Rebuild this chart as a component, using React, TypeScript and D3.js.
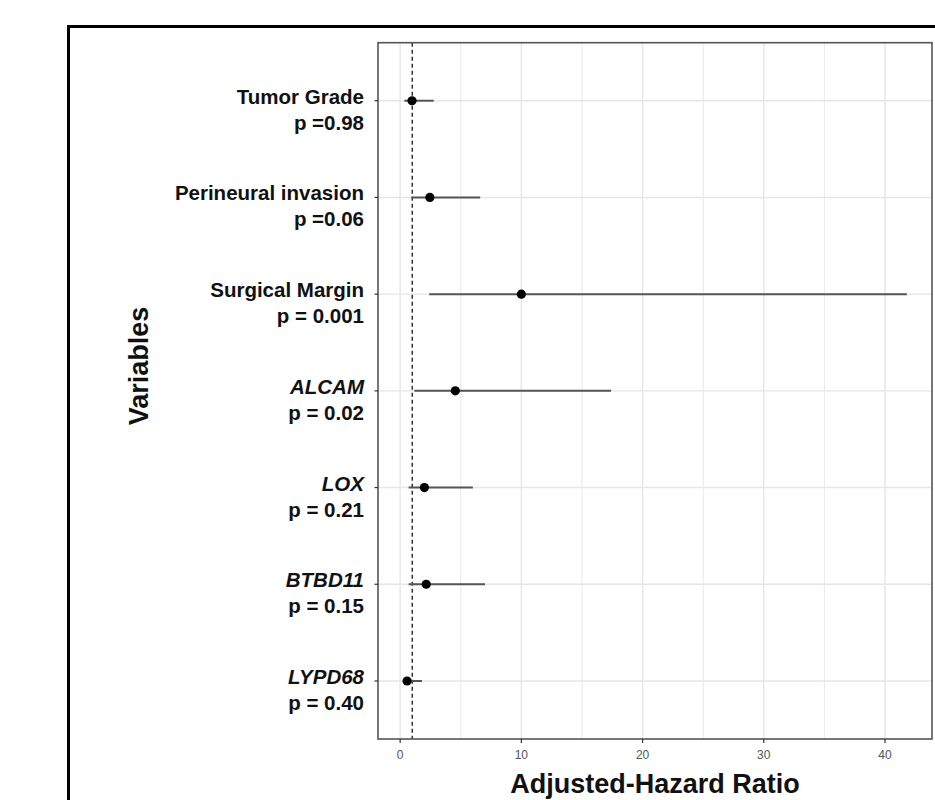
import React, { useEffect, useRef } from 'react';
import * as d3 from 'd3';

// forest plot data
const variables = ["Tumor Grade", "Perineural invasion", "Surgical Margin", "ALCAM", "LOX", "BTBD11", "LYPD68"];
const pLabels = ["p =0.98", "p =0.06", "p = 0.001", "p = 0.02", "p = 0.21", "p = 0.15", "p = 0.40"];
const isGene = [false, false, false, true, true, true, true];
const hazardRatio = [0.98, 2.45, 10.0, 4.55, 2.0, 2.15, 0.57];
const lowerCI = [0.35, 0.93, 2.4, 1.17, 0.7, 0.7, 0.25];
const upperCI = [2.77, 6.6, 41.8, 17.4, 6.0, 7.0, 1.8];
const xTicks = [0, 10, 20, 30, 40];
const minorTicks = [5, 15, 25, 35];
const refLine = 1;

const FONT = "'Liberation Sans', Arial, sans-serif";

function ForestPlot() {
  const ref = useRef<SVGSVGElement | null>(null);

  useEffect(() => {
    document.body.style.margin = "0";
    if (!ref.current) return;
    const svg = d3.select(ref.current);
    svg.selectAll("*").remove();

    const panel = { left: 378, right: 932, top: 42.7, bottom: 739 };

    // outer frame
    svg.append("rect")
      .attr("x", 68.5).attr("y", 26.5)
      .attr("width", 1000).attr("height", 1000)
      .attr("fill", "none").attr("stroke", "#000").attr("stroke-width", 3);

    const lo = d3.min(lowerCI) as number;
    const hi = d3.max(upperCI) as number;
    const pad = (hi - lo) * 0.05;
    const x = d3.scaleLinear().domain([lo - pad, hi + pad]).range([panel.left, panel.right]);
    const y = d3.scalePoint<string>().domain(variables).range([panel.top, panel.bottom]).padding(0.6);

    // grid
    const g = svg.append("g");
    g.selectAll(".minor").data(minorTicks).enter().append("line")
      .attr("x1", d => x(d)).attr("x2", d => x(d))
      .attr("y1", panel.top).attr("y2", panel.bottom)
      .attr("stroke", "#ececec").attr("stroke-width", 1.2);
    g.selectAll(".major").data(xTicks).enter().append("line")
      .attr("x1", d => x(d)).attr("x2", d => x(d))
      .attr("y1", panel.top).attr("y2", panel.bottom)
      .attr("stroke", "#e6e6e6").attr("stroke-width", 1.4);
    g.selectAll(".hgrid").data(variables).enter().append("line")
      .attr("x1", panel.left).attr("x2", panel.right)
      .attr("y1", d => y(d) as number).attr("y2", d => y(d) as number)
      .attr("stroke", "#e6e6e6").attr("stroke-width", 1.4);

    // reference line at HR = 1
    svg.append("line")
      .attr("x1", x(refLine)).attr("x2", x(refLine))
      .attr("y1", panel.top).attr("y2", panel.bottom)
      .attr("stroke", "#333").attr("stroke-width", 1.5)
      .attr("stroke-dasharray", "4,3");

    // confidence intervals and points
    svg.selectAll(".ci").data(variables).enter().append("line")
      .attr("x1", (d, i) => x(lowerCI[i])).attr("x2", (d, i) => x(upperCI[i]))
      .attr("y1", d => y(d) as number).attr("y2", d => y(d) as number)
      .attr("stroke", "#555").attr("stroke-width", 2);
    svg.selectAll(".pt").data(variables).enter().append("circle")
      .attr("cx", (d, i) => x(hazardRatio[i]))
      .attr("cy", d => y(d) as number)
      .attr("r", 4.6).attr("fill", "#000");

    // panel border
    svg.append("rect")
      .attr("x", panel.left).attr("y", panel.top)
      .attr("width", panel.right - panel.left).attr("height", panel.bottom - panel.top)
      .attr("fill", "none").attr("stroke", "#555").attr("stroke-width", 1.6);

    // x axis ticks + labels
    const xa = svg.append("g");
    xa.selectAll("line").data(xTicks).enter().append("line")
      .attr("x1", d => x(d)).attr("x2", d => x(d))
      .attr("y1", panel.bottom).attr("y2", panel.bottom + 4)
      .attr("stroke", "#333").attr("stroke-width", 1.2);
    xa.selectAll("text").data(xTicks).enter().append("text")
      .attr("x", d => x(d)).attr("y", panel.bottom + 20)
      .attr("text-anchor", "middle")
      .attr("font-family", FONT).attr("font-size", 12)
      .attr("fill", "#555")
      .text(d => d);

    // y axis ticks + two-line labels
    const ya = svg.append("g");
    ya.selectAll("line").data(variables).enter().append("line")
      .attr("x1", panel.left - 3.5).attr("x2", panel.left)
      .attr("y1", d => y(d) as number).attr("y2", d => y(d) as number)
      .attr("stroke", "#333").attr("stroke-width", 1.2);
    const lab = ya.selectAll(".lab").data(variables).enter().append("text")
      .attr("text-anchor", "end")
      .attr("font-family", FONT).attr("font-size", 20.5)
      .attr("font-weight", "bold").attr("fill", "#111");
    lab.append("tspan")
      .attr("x", 364).attr("y", d => (y(d) as number) + 3)
      .attr("font-style", (d, i) => isGene[i] ? "italic" : "normal")
      .text(d => d);
    lab.append("tspan")
      .attr("x", 364).attr("y", d => (y(d) as number) + 29)
      .text((d, i) => pLabels[i]);

    // axis titles
    svg.append("text")
      .attr("x", (panel.left + panel.right) / 2).attr("y", 793)
      .attr("text-anchor", "middle")
      .attr("font-family", FONT).attr("font-size", 27).attr("font-weight", "bold")
      .attr("fill", "#111")
      .text("Adjusted-Hazard Ratio");
    svg.append("text")
      .attr("transform", "translate(148,366) rotate(-90)")
      .attr("text-anchor", "middle")
      .attr("font-family", FONT).attr("font-size", 27).attr("font-weight", "bold")
      .attr("fill", "#111")
      .text("Variables");
  }, []);

  return <svg ref={ref} width={935} height={800} style={{ display: "block", background: "#fff" }} />;
}

export default function App() {
  return <ForestPlot />;
}
